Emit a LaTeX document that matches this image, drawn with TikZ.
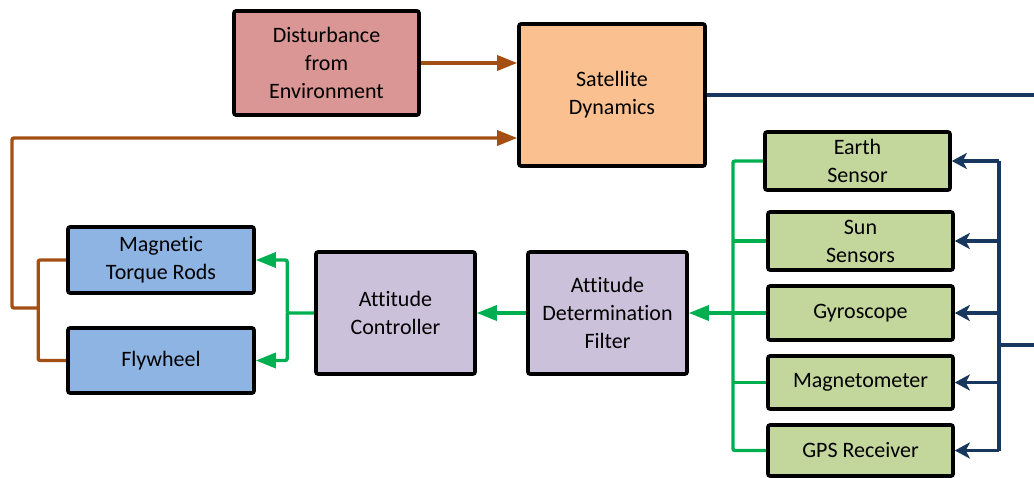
\documentclass[tikz,border=0pt]{standalone}
\usepackage{fontspec}
\setmainfont{Carlito}[Ligatures={NoCommon}]
\usetikzlibrary{arrows.meta}
\definecolor{distred}{HTML}{D99694}
\definecolor{dynpeach}{HTML}{FAC090}
\definecolor{actblue}{HTML}{8EB4E3}
\definecolor{ctrlpurple}{HTML}{CCC1DA}
\definecolor{sensgreen}{HTML}{C3D69B}
\definecolor{brownln}{HTML}{A34F14}
\definecolor{greenln}{HTML}{00B050}
\definecolor{navyln}{HTML}{17375E}
\newcommand{\blk}[6]{\node[blkbox, fill=#1, minimum width=#4*0.5pt, minimum height=#5*0.5pt] (#2) at (#3) {#6};}

\begin{document}
\begin{tikzpicture}[x=0.5pt, y=-0.5pt,
  blkbox/.style = {draw, line width=1.8pt, rounded corners=1pt, align=center, inner sep=0pt,
                   font=\fontsize{11}{14}\selectfont},
  brownline/.style = {draw=brownln, line width=1.7pt, rounded corners=1pt},
  greenline/.style = {draw=greenln, line width=1.7pt, rounded corners=1pt},
  navyline/.style = {draw=navyln, line width=1.7pt, rounded corners=1pt},
  fat/.style = {-{Triangle[length=10pt, width=7.5pt]}},
  thin/.style = {-{Stealth[length=7.5pt, width=8pt, inset=2pt]}}]
\useasboundingbox (0,0) rectangle (1034,477);
% blocks
\blk{distred}{dist}{326.5,63}{185}{104}{Disturbance\\from\\Environment}
\blk{dynpeach}{dyn}{612,95}{186}{142}{Satellite\\Dynamics}
\blk{actblue}{torque}{161,260}{186}{66}{Magnetic\\Torque Rods}
\blk{actblue}{fly}{161,360.5}{186}{65}{Flywheel}
\blk{ctrlpurple}{ctrl}{395.5,313}{159}{122}{Attitude\\Controller}
\blk{ctrlpurple}{filt}{607.5,313}{159}{122}{Attitude\\Determination\\Filter}
\blk{sensgreen}{earth}{857.5,161}{185}{58}{Earth\\Sensor}
\blk{sensgreen}{sun}{860.5,241}{185}{58}{Sun\\Sensors}
\blk{sensgreen}{gyro}{860.5,313}{185}{54}{Gyroscope}
\blk{sensgreen}{mag}{860.5,382.5}{185}{53}{Magnetometer}
\blk{sensgreen}{gps}{860.5,450.5}{185}{51}{GPS Receiver}
% disturbance and actuator torques
\draw[brownline, fat] (dist.east) -- (dist.east -| dyn.west);
\draw[brownline] (torque.west) -- ++(-28,0) coordinate (bj) |- (fly.west);
\draw[brownline, fat] (bj |- 0,308) -- (12,308) |- (dyn.west |- 0,138);
% controller to actuators
\draw[greenline, fat] (ctrl.west) -- ++(-27,0) coordinate (cj) |- (torque.east);
\draw[greenline, fat] (cj) |- (fly.east);
\draw[greenline, fat] (filt.west) -- (ctrl.east);
% sensors to filter
\draw[greenline, fat] (gyro.west) -- (filt.east);
\coordinate (gbus) at (733,313);
\draw[greenline] (earth.west) -| (gbus |- gps.west) -- (gps.west);
\foreach \s in {sun,mag}
  \draw[greenline] (\s.west) -- (gbus |- \s.west);
% dynamics to sensors
\coordinate (nbus) at (999,345);
\draw[navyline] (dyn.east) -- (1034,95);
\draw[navyline] (1034,345) -- (nbus);
\draw[navyline] (nbus |- earth.east) -- (nbus |- gps.east);
\foreach \s in {earth,sun,gyro,mag,gps}
  \draw[navyline, thin] (nbus |- \s.east) -- (\s.east);
\end{tikzpicture}
\end{document}
